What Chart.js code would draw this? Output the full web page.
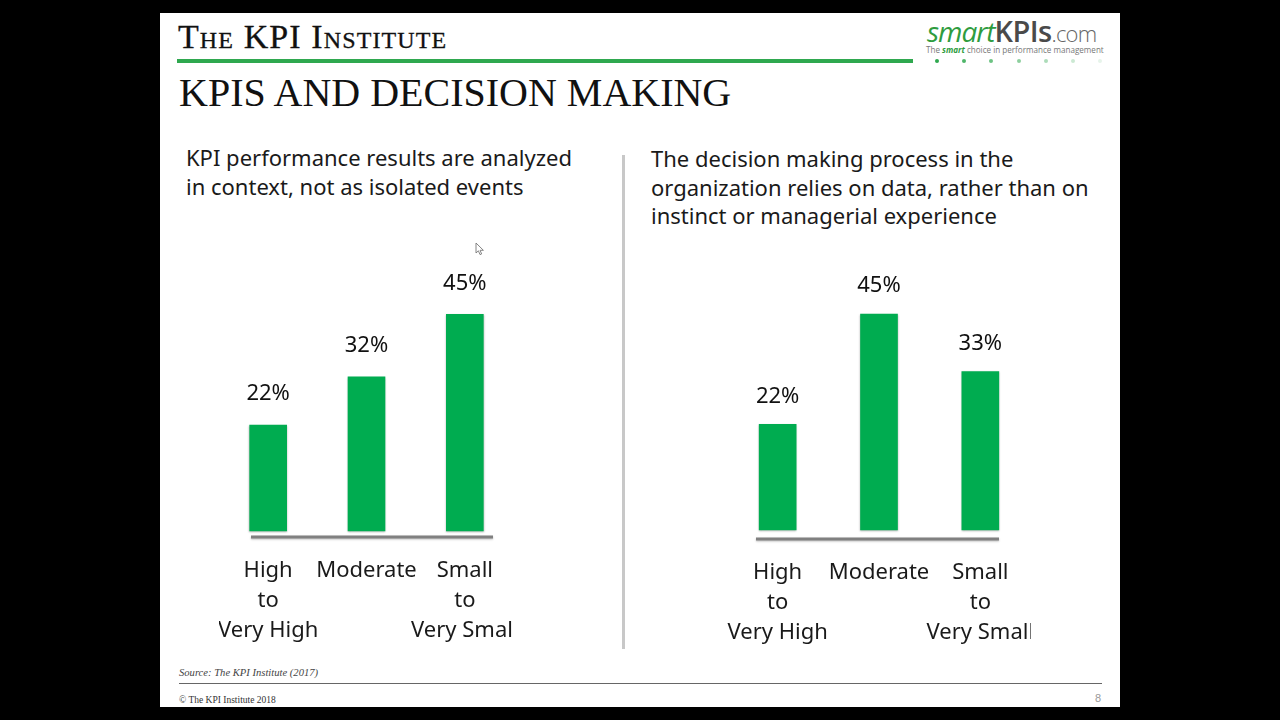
<!DOCTYPE html>
<html>
<head>
<meta charset="utf-8">
<title>KPIs and Decision Making</title>
<script src="https://cdn.jsdelivr.net/npm/chart.js"></script>
<style>
    html, body { margin: 0; padding: 0; background: #000; }
    #slide { position: absolute; left: 160px; top: 13px; width: 960px; height: 694px; background: #fff; overflow: hidden; }
    #slide > * { position: absolute; }
    canvas { position: absolute; }
    .serif { font-family: "Liberation Serif", serif; color: #111; white-space: nowrap; }
    .lead { font-family: "Noto Sans", sans-serif; font-size: 22px; line-height: 28.6px; color: #1a1a1a; white-space: nowrap; }
    #brand { left: 18px; top: 5px; font-size: 34px; font-variant: small-caps; -webkit-text-stroke: 0.3px #111; letter-spacing: 1.1px; }
    #greenRule { left: 17px; top: 46px; width: 736px; height: 4px; background: #2fa84f; }
    #heading { left: 19px; top: 56px; font-size: 40px; }
    #logo { left: 767px; top: -2px; font-family: "Open Sans", sans-serif; white-space: nowrap; }
    #logo i { color: #2e9c3e; font-size: 28px; letter-spacing: -1px; }
    #logo b { color: #4a4a4a; font-size: 29px; font-weight: 600; letter-spacing: -0.6px; }
    #logo span { color: #666; font-size: 22px; font-weight: 300; letter-spacing: -0.8px; }
    #tagline { left: 766px; top: 31px; font-family: "Open Sans", sans-serif; font-size: 8.1px; color: #777; white-space: nowrap; }
    #tagline i { color: #2e9c3e; font-weight: 700; }
    .dot { top: 46px; width: 4px; height: 4px; border-radius: 50%; background: #2fa84f; }
    #divider { left: 462px; top: 142px; width: 3px; height: 494px; background: #c8c8c8; }
    #source { left: 19px; top: 654px; font-size: 10.6px; font-style: italic; color: #444; }
    #footRule { left: 19px; top: 670px; width: 923px; height: 1px; background: #666; }
    #copyright { left: 19px; top: 682px; font-size: 9.5px; color: #333; }
    #pageNo { left: 935px; top: 679px; font-family: "Liberation Sans", sans-serif; font-size: 11px; color: #999; }
    #pointer { left: 315px; top: 229px; }
</style>
</head>
<body>
<div id="slide">
    <div id="brand" class="serif">The KPI Institute</div>
    <div id="greenRule"></div>
    <div id="heading" class="serif">KPIS AND DECISION MAKING</div>
    <div id="logo"><i>smart</i><b>KPIs</b><span>.com</span></div>
    <div id="tagline">The <i>smart</i> choice in performance management</div>
    <div class="dot" style="left:775px"></div>
    <div class="dot" style="left:802px;opacity:.85"></div>
    <div class="dot" style="left:829px;opacity:.7"></div>
    <div class="dot" style="left:857px;opacity:.55"></div>
    <div class="dot" style="left:884px;opacity:.4"></div>
    <div class="dot" style="left:911px;opacity:.25"></div>
    <div class="dot" style="left:938px;opacity:.12"></div>

    <div class="lead" style="left:26px;top:130px">KPI performance results are analyzed<br>in context, not as isolated events</div>
    <div class="lead" style="left:491px;top:131px">The decision making process in the<br>organization relies on data, rather than on<br>instinct or managerial experience</div>
    <div id="divider"></div>

    <svg id="pointer" width="10" height="14" viewBox="0 0 10 14">
        <path d="M1 1 L1 11 L3.4 8.8 L5 12.6 L6.6 12 L5.1 8.3 L8.4 8.3 Z" fill="#fff" stroke="#777" stroke-width="0.9"/>
    </svg>

    <canvas id="leftChart" width="295" height="408" style="left:59px;top:229px"></canvas>
    <canvas id="rightChart" width="304" height="410" style="left:567px;top:229px"></canvas>

    <div id="source" class="serif">Source: The KPI Institute (2017)</div>
    <div id="footRule"></div>
    <div id="copyright" class="serif">© The KPI Institute 2018</div>
    <div id="pageNo">8</div>
</div>

<script>
// survey answers, in percent
const categories = [['High', 'to', 'Very High'], 'Moderate', ['Small', 'to', 'Very Small']];
const contextValues = [22, 32, 45];
const dataDrivenValues = [22, 45, 33];

const barGreen = '#00ac50';
const textFont = '"Noto Sans", sans-serif';

// percent labels over the bars and the short grey base line under them
const barDecor = {
    id: 'barDecor',
    beforeDatasetsDraw(chart) {
        const ctx = chart.ctx;
        ctx.save();
        ctx.shadowColor = 'rgba(0, 0, 0, 0.3)';
        ctx.shadowBlur = 2;
        ctx.shadowOffsetY = 1;
    },
    afterDatasetsDraw(chart, args, opts) {
        const ctx = chart.ctx;
        ctx.restore();

        // base line
        const y = chart.chartArea.bottom;
        ctx.save();
        ctx.strokeStyle = '#808080';
        ctx.lineWidth = 3;
        ctx.shadowColor = 'rgba(0, 0, 0, 0.25)';
        ctx.shadowBlur = 2;
        ctx.shadowOffsetY = 1;
        ctx.beginPath();
        ctx.moveTo(chart.chartArea.left + opts.inLeft, y);
        ctx.lineTo(chart.chartArea.right - opts.inRight, y);
        ctx.stroke();
        ctx.restore();

        // value labels
        ctx.save();
        ctx.font = '22px ' + textFont;
        ctx.fillStyle = '#111';
        ctx.textAlign = 'center';
        ctx.textBaseline = 'middle';
        chart.getDatasetMeta(0).data.forEach((bar, i) => {
            ctx.fillText(chart.data.datasets[0].data[i] + '%', bar.x, bar.y - opts.labelGap);
        });
        ctx.restore();
    }
};

function makeBars(id, values, yMin, inLeft, inRight, labelGap) {
    return new Chart(document.getElementById(id), {
        type: 'bar',
        data: {
            labels: categories,
            datasets: [{ data: values, backgroundColor: barGreen, barThickness: 37 }]
        },
        plugins: [barDecor],
        options: {
            responsive: false,
            animation: false,
            plugins: {
                legend: { display: false },
                tooltip: { enabled: false },
                barDecor: { inLeft: inLeft, inRight: inRight, labelGap: labelGap }
            },
            scales: {
                x: {
                    grid: { display: false },
                    border: { display: false },
                    afterFit: (scale) => {
                        // the wide tick labels must not squeeze the bars together
                        scale.height = 113;
                        scale.paddingLeft = 0;
                        scale.paddingRight = 0;
                    },
                    ticks: {
                        padding: 11,
                        autoSkip: false,
                        maxRotation: 0,
                        color: '#1a1a1a',
                        font: { family: textFont, size: 22, lineHeight: 1.36 }
                    }
                },
                y: { display: false, min: yMin, max: 60 }
            }
        }
    });
}

makeBars('leftChart', contextValues, -1.25, 32, 21, 31);
makeBars('rightChart', dataDrivenValues, -1.875, 29, 32, 28);
</script>
</body>
</html>
